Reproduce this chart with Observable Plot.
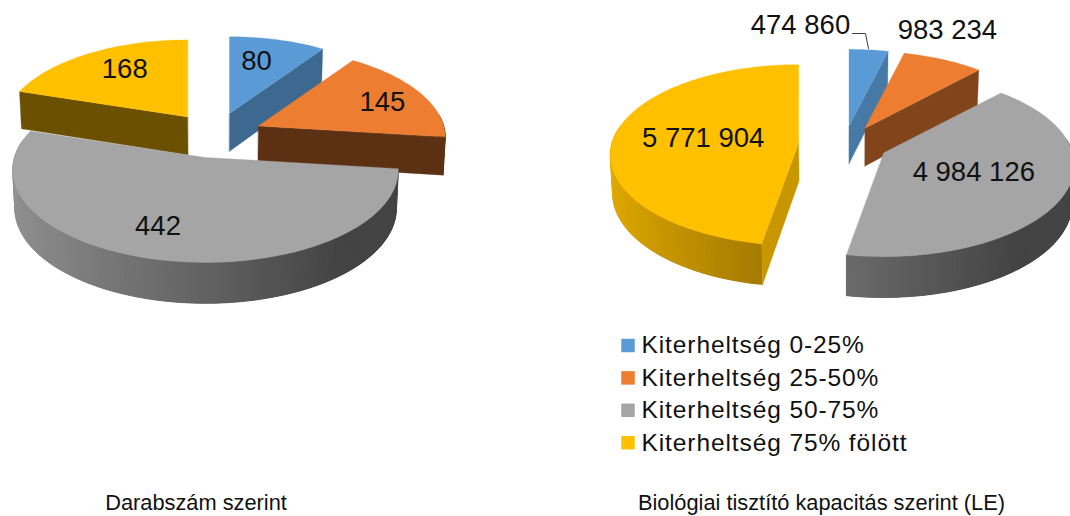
<!DOCTYPE html>
<html>
<head>
<meta charset="utf-8">
<script src="https://cdn.jsdelivr.net/npm/d3@7"></script>
<script src="https://cdn.jsdelivr.net/npm/@observablehq/plot@0.6"></script>
<style>
html,body{margin:0;padding:0;background:#fff}
svg{display:block}
.legend-text text{letter-spacing:.9px}
</style>
</head>
<body>
<div id="chart"></div>
<script>
// ---- data ----
const categories = ["Kiterheltség 0-25%", "Kiterheltség 25-50%", "Kiterheltség 50-75%", "Kiterheltség 75% fölött"];
const countValues = [80, 145, 442, 168];
const capacityValues = [474860, 983234, 4984126, 5771904];
const captions = ["Darabszám szerint", "Biológiai tisztító kapacitás szerint (LE)"];

// ---- styles and layout ----
const colors = ["#5b9bd5", "#ed7d31", "#a5a5a5", "#ffc000"];
const W = 1070, H = 516;
const radiusX = 187, radiusY = 89, perspective = 0.135, depth = 38;
const pies = [
  {values: countValues, cx: 215, cy: 134.7, ex: 47, ey: 22.7, captionX: 195.5,
   labelOffsets: [[27,-52],[124,-24],[-47.5,69],[-63,-48]]},
  {values: capacityValues, cx: 843, cy: 144, ex: 45, ey: 18.6, captionX: 821,
   labelOffsets: [[-48.5,-100.5],[82.5,-97.5],[90,19.5],[-95.5,-4.4]]}
];
const legendX = 627.5, legendTextX = 641, legendY = 345, legendStep = 32.4;
const spaced = d3.formatLocale({decimal: ",", thousands: " ", grouping: [3], currency: ["", ""]}).format(",d");

const faceShade = d3.scaleLinear().domain([90, 104, 125, 133, 187, 200]).range([.8, .78, .67, .55, .39, .42]).clamp(true);
const wallShade = t => Math.max(.41, .885 - .29 * (Math.sin(t) + 1));
const tint = (c, f) => { const r = d3.rgb(c); return d3.rgb(r.r * f, r.g * f, r.b * f).formatHex(); };

// ---- geometry from the values ----
const tops = [], labels = [];
let id = 0;
function add(points, color, list = tops) {
  const k = id++;
  points.forEach(([x, y]) => list.push({k, x, y, color}));
}
const TAU = Math.PI * 2;
pies.forEach(pie => {
  const total = d3.sum(pie.values);
  let acc = 0;
  const slices = pie.values.map((v, i) => {
    const t0 = acc / total * TAU; acc += v;
    const t1 = acc / total * TAU, mid = (t0 + t1) / 2;
    const ax = pie.cx + pie.ex * Math.sin(mid), ay = pie.cy - pie.ey * Math.cos(mid);
    const grow = 1 - .022 * Math.cos(mid);
    return {i, v, t0, t1, mid, ax, ay, grow};
  });
  const rim = (s, t, down) => {
    const p = 1 / (1 + perspective * Math.cos(t));
    let x = s.ax + radiusX * s.grow * Math.sin(t) * p;
    let y = s.ay - radiusY * s.grow * Math.cos(t) * p;
    if (down) { x = pie.cx + (x - pie.cx) * .99; y += depth * Math.sqrt(p); }
    return [x, y];
  };
  const apex = (s, down) => down ? [pie.cx + (s.ax - pie.cx) * .99, s.ay + depth] : [s.ax, s.ay];
  const order = slices.slice().sort((a, b) => a.ay - b.ay);
  order.forEach(s => {
    const c = colors[s.i];
    // curved outer wall, in overlapping strips so that it can shade along the rim
    const n = Math.ceil((s.t1 - s.t0) / 0.02);
    for (let j = 0; j < n; j++) {
      const a = s.t0 + (s.t1 - s.t0) * j / n, b = s.t0 + (s.t1 - s.t0) * Math.min(n, j + 3) / n;
      if (Math.cos(a) > .15) continue;
      add([rim(s, a, false), rim(s, b, false), rim(s, b, true), rim(s, a, true)], tint(c, wallShade(a)));
    }
    // flat cut faces that turn towards the viewer
    const endNormal = (s.t1 * 180 / Math.PI + 90) % 360, startNormal = (s.t0 * 180 / Math.PI - 90 + 360) % 360;
    [[s.t1, endNormal], [s.t0, startNormal]].forEach(([t, nrm]) => {
      if (Math.cos(nrm * Math.PI / 180) < -.01)
        add([apex(s, false), rim(s, t, false), rim(s, t, true), apex(s, true)], tint(c, faceShade(nrm)));
    });
    // top face
    const top = [apex(s, false)];
    for (let j = 0; j <= n; j++) top.push(rim(s, s.t0 + (s.t1 - s.t0) * j / n, false));
    add(top, c);
    const [ox, oy] = pie.labelOffsets[s.i];
    labels.push({x: s.ax + ox, y: s.ay + oy, text: spaced(s.v)});
  });
});

const legend = categories.map((name, i) => ({name, color: colors[i], x: legendX, tx: legendTextX, y: legendY + i * legendStep}));
const captionRows = captions.map((text, i) => ({text, x: pies[i].captionX, y: 503}));
const leader = [[852, 33], [865, 33], [868, 48]].map(([x, y]) => ({x, y}));

const chart = Plot.plot({
  width: W, height: H, margin: 0, axis: null,
  style: {background: "#fff"},
  x: {domain: [0, W], range: [0, W]},
  y: {domain: [0, H], range: [0, H]},
  color: {type: "identity"},
  marks: [
    Plot.line(tops, {x: "x", y: "y", z: "k", fill: "color", stroke: "color", strokeWidth: .3, curve: "linear-closed"}),
    Plot.line(leader, {x: "x", y: "y", stroke: "#404040", strokeWidth: 1}),
    Plot.text(labels, {x: "x", y: "y", text: "text", fontSize: 27.5, fontFamily: "Liberation Sans", fill: "#111"}),
    Plot.dot(legend, {x: "x", y: "y", symbol: "square", r: 7.6, fill: "color", stroke: "none"}),
    Plot.text(legend, {x: "tx", y: "y", text: "name", textAnchor: "start", fontSize: 24.5, fontFamily: "Liberation Sans", fill: "#111", className: "legend-text"}),
    Plot.text(captionRows, {x: "x", y: "y", text: "text", fontSize: 21.8, fontFamily: "Liberation Sans", fill: "#111"})
  ]
});
document.getElementById("chart").appendChild(chart);
</script>
</body>
</html>
